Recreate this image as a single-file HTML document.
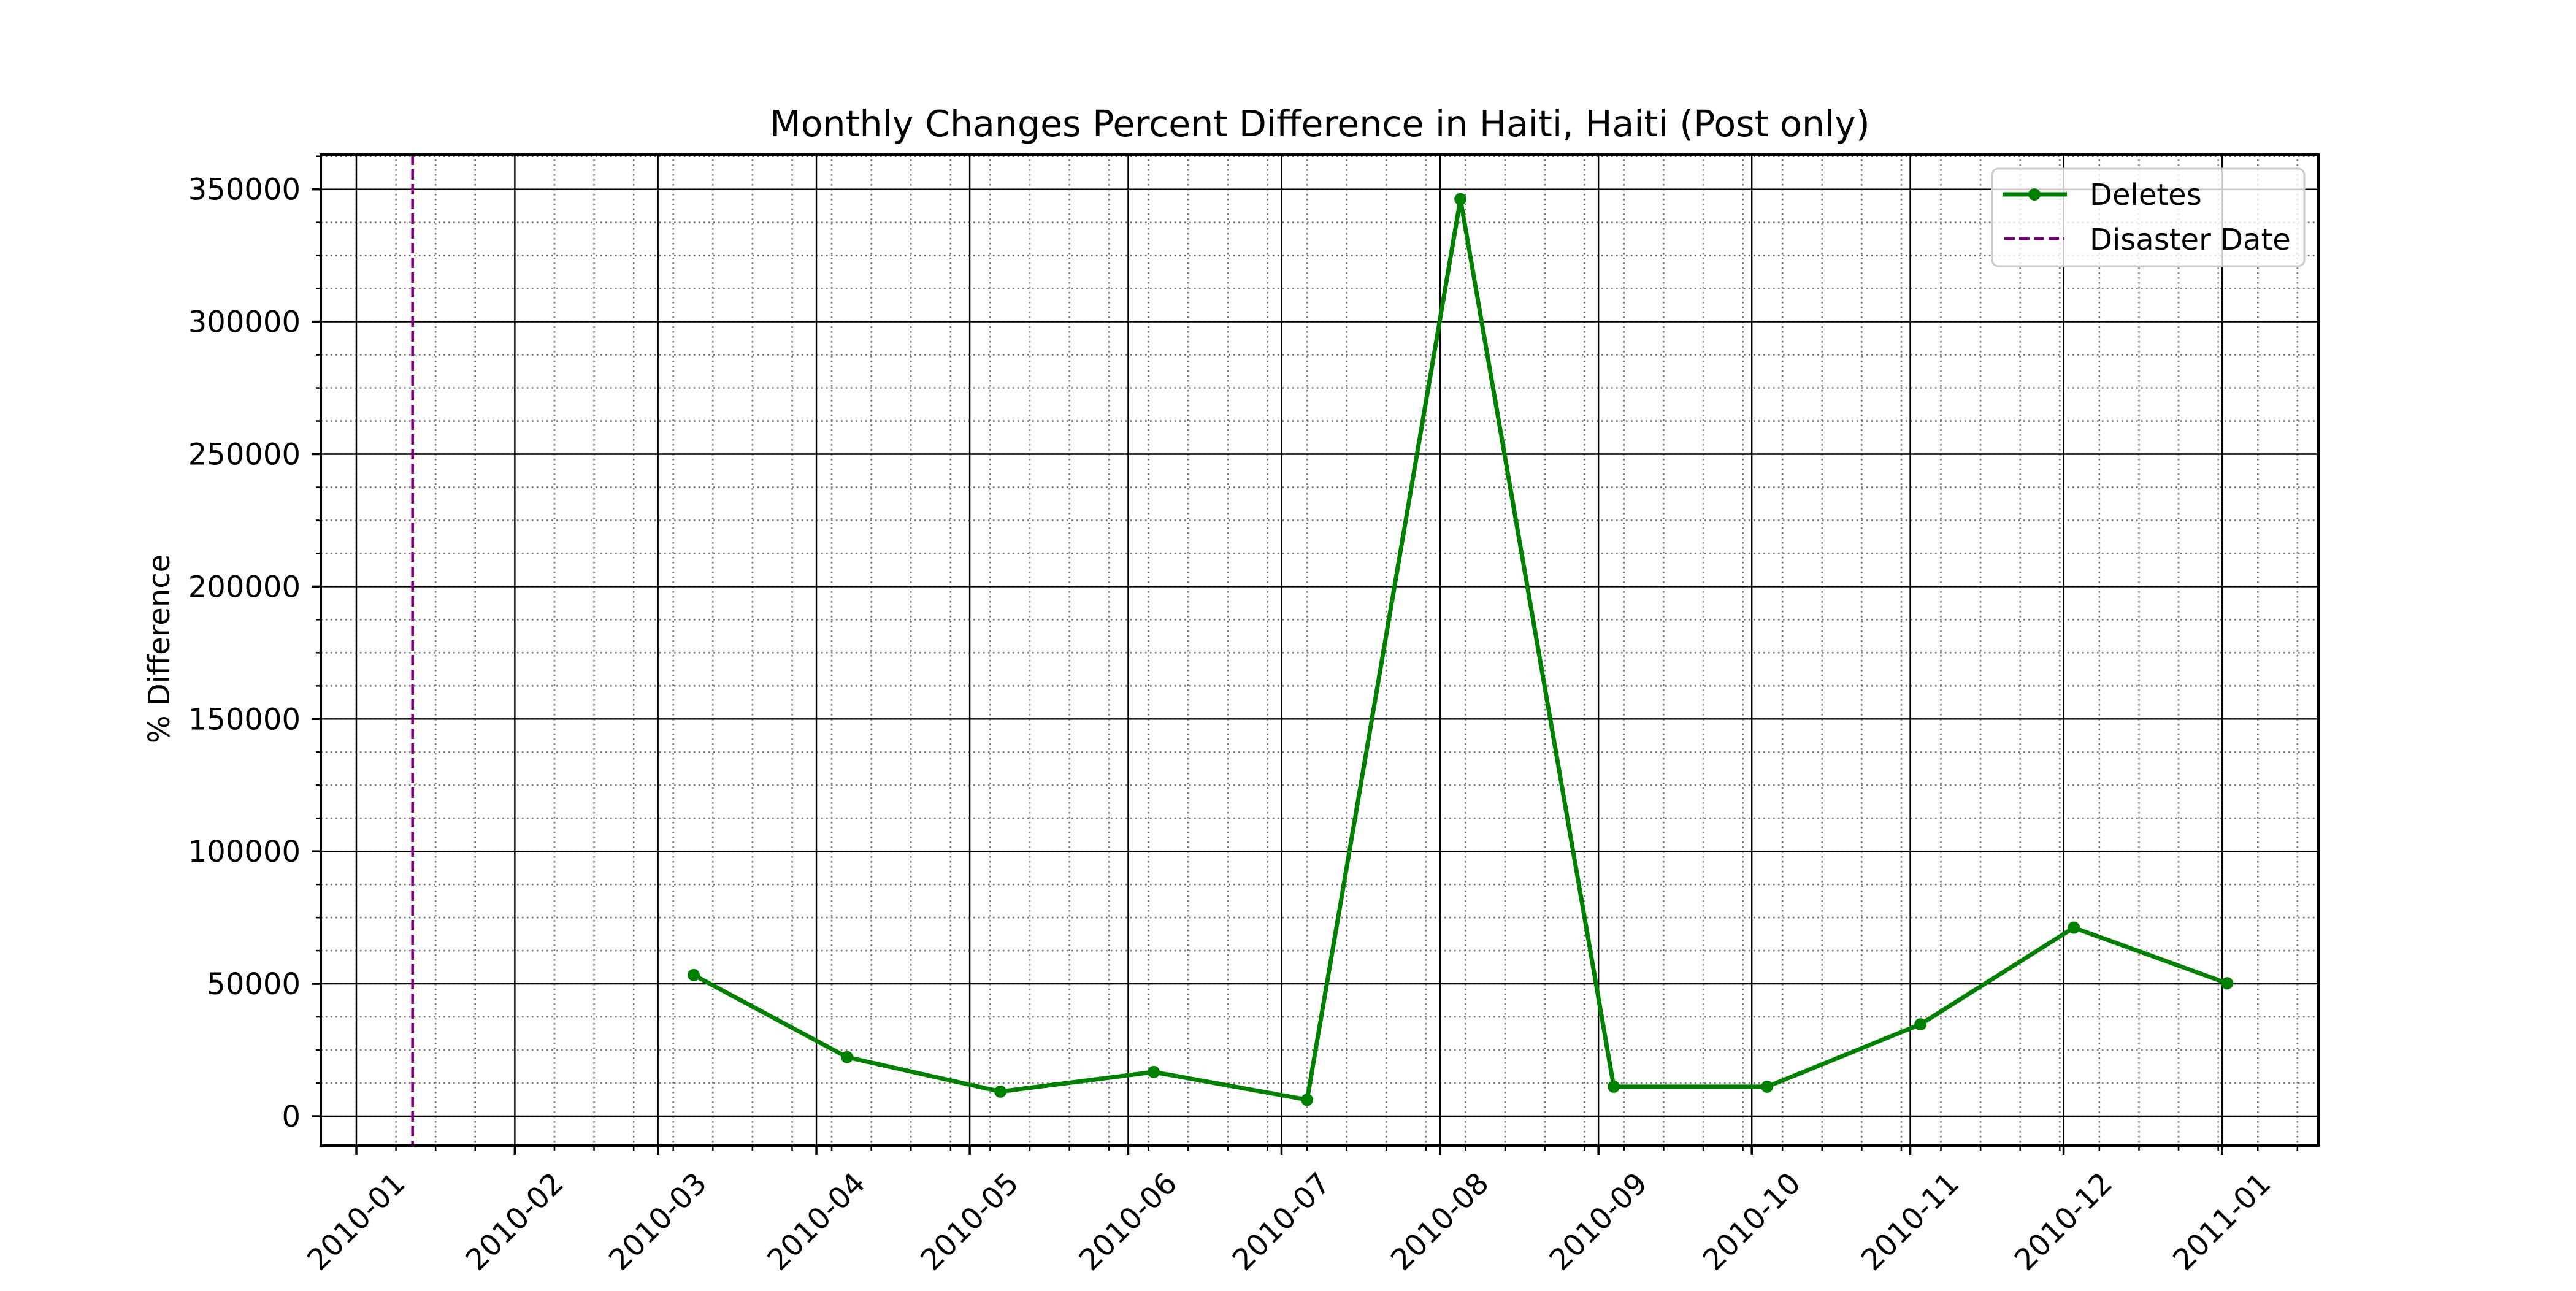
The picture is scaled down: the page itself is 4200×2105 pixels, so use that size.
<!DOCTYPE html>
<html><head><meta charset="utf-8"><style>
html,body{margin:0;padding:0;background:#fff;}
svg text{font-family:"DejaVu Sans","Liberation Sans",sans-serif;fill:#000;}
</style></head><body>
<svg id="chart" width="4200" height="2100" xmlns="http://www.w3.org/2000/svg">
<rect width="4200" height="2100" fill="#fff"/>
<text x="2152" y="222" font-size="58.5" text-anchor="middle">Monthly Changes Percent Difference in Haiti, Haiti (Post only)</text>
<text x="0" y="0" font-size="48" text-anchor="middle" transform="translate(276,1058) rotate(-90)">% Difference</text>
<g id="grid"></g>
<g id="marks"></g>
<g id="axes"></g>
<g id="legend">
  <rect x="3248" y="275" width="509" height="159" rx="10" fill="#fff" fill-opacity="0.8" stroke="#ccc" stroke-width="3"/>
  <line x1="3265" y1="317" x2="3370" y2="317" stroke="#008000" stroke-width="7"/>
  <circle cx="3317" cy="317" r="10" fill="#008000"/>
  <text x="3407" y="334" font-size="48">Deletes</text>
  <line x1="3268" y1="389" x2="3366" y2="389" stroke="#800080" stroke-width="4.5" stroke-dasharray="17,7"/>
  <text x="3407" y="407" font-size="48">Disaster Date</text>
</g>
</svg>
<script>
const dates = ["2010-03-08","2010-04-07","2010-05-07","2010-06-06","2010-07-06","2010-08-05","2010-09-04","2010-10-04","2010-11-03","2010-12-03","2011-01-02"];
const deletes = [53300,22300,9300,16700,6200,346300,11150,11150,34700,71200,50200];
const disasterDate = "2010-01-12";
const xTickLabels = ["2010-01","2010-02","2010-03","2010-04","2010-05","2010-06","2010-07","2010-08","2010-09","2010-10","2010-11","2010-12","2011-01"];
const yTicks = [0,50000,100000,150000,200000,250000,300000,350000];

const NS="http://www.w3.org/2000/svg";
const L=523,R=3780,T=252,B=1868;
const DAY=86400000, T0=Date.UTC(2010,0,1);
function dayOf(s){const p=s.split("-").map(Number);return (Date.UTC(p[0],p[1]-1,p[2]||1)-T0)/DAY;}
function X(s){return 581+dayOf(s)*8.334;}
function Xd(d){return 581+d*8.334;}
function Y(v){return 1820-v*0.004318;}
function mk(tag,attrs,parent){const e=document.createElementNS(NS,tag);for(const k in attrs)e.setAttribute(k,attrs[k]);parent.appendChild(e);return e;}
const grid=document.getElementById('grid'),marks=document.getElementById('marks'),axes=document.getElementById('axes');

for(let d=-7.75;Xd(d)<R;d+=7.75){const x=Xd(d);if(x<=L)continue;
  const l=mk('line',{x1:x,y1:T,x2:x,y2:B,stroke:'#777','stroke-width':2.6,'stroke-dasharray':'2.6,5.4'},grid);
  
  const t=mk('line',{x1:x,y1:B,x2:x,y2:B+8,stroke:'#000','stroke-width':2.5},axes);
  }
for(let v=-12500;v<=370000;v+=12500){const y=Y(v);if(y<T||y>B)continue;
  const l=mk('line',{x1:L,y1:y,x2:R,y2:y,stroke:'#777','stroke-width':2.6,'stroke-dasharray':'2.6,5.4'},grid);
  
  const t=mk('line',{x1:L-8,y1:y,x2:L,y2:y,stroke:'#000','stroke-width':2.5},axes);
  }
xTickLabels.forEach(s=>{const x=X(s);
  const l=mk('line',{x1:x,y1:T,x2:x,y2:B,stroke:'#000','stroke-width':2.4},grid);
  
  const t=mk('line',{x1:x,y1:B,x2:x,y2:B+15,stroke:'#000','stroke-width':3.5},axes);
  
  const tx=mk('text',{x:0,y:0,'font-size':48,'text-anchor':'middle','dominant-baseline':'central',transform:`translate(${x},1992) rotate(-45)`},axes);
  tx.textContent=s;});
yTicks.forEach(v=>{const y=Y(v);
  const l=mk('line',{x1:L,y1:y,x2:R,y2:y,stroke:'#000','stroke-width':2.4},grid);
  
  const t=mk('line',{x1:L-15,y1:y,x2:L,y2:y,stroke:'#000','stroke-width':3.5},axes);
  
  const tx=mk('text',{x:490,y:y+17,'font-size':48,'text-anchor':'end'},axes);
  tx.textContent=String(v);});
const dl=mk('line',{x1:X(disasterDate),y1:T,x2:X(disasterDate),y2:B,stroke:'#800080','stroke-width':4.5,'stroke-dasharray':'17,7'},marks);

const pts=dates.map((d,i)=>X(d)+','+Y(deletes[i])).join(' ');
const pl=mk('polyline',{points:pts,fill:'none',stroke:'#008000','stroke-width':7,'stroke-linejoin':'round'},marks);

dates.forEach((d,i)=>{const c=mk('circle',{cx:X(d),cy:Y(deletes[i]),r:10,fill:'#008000'},marks);
  });
const sp=mk('rect',{x:L,y:T,width:R-L,height:B-T,fill:'none',stroke:'#000','stroke-width':4},axes);

</script>
</body></html>
